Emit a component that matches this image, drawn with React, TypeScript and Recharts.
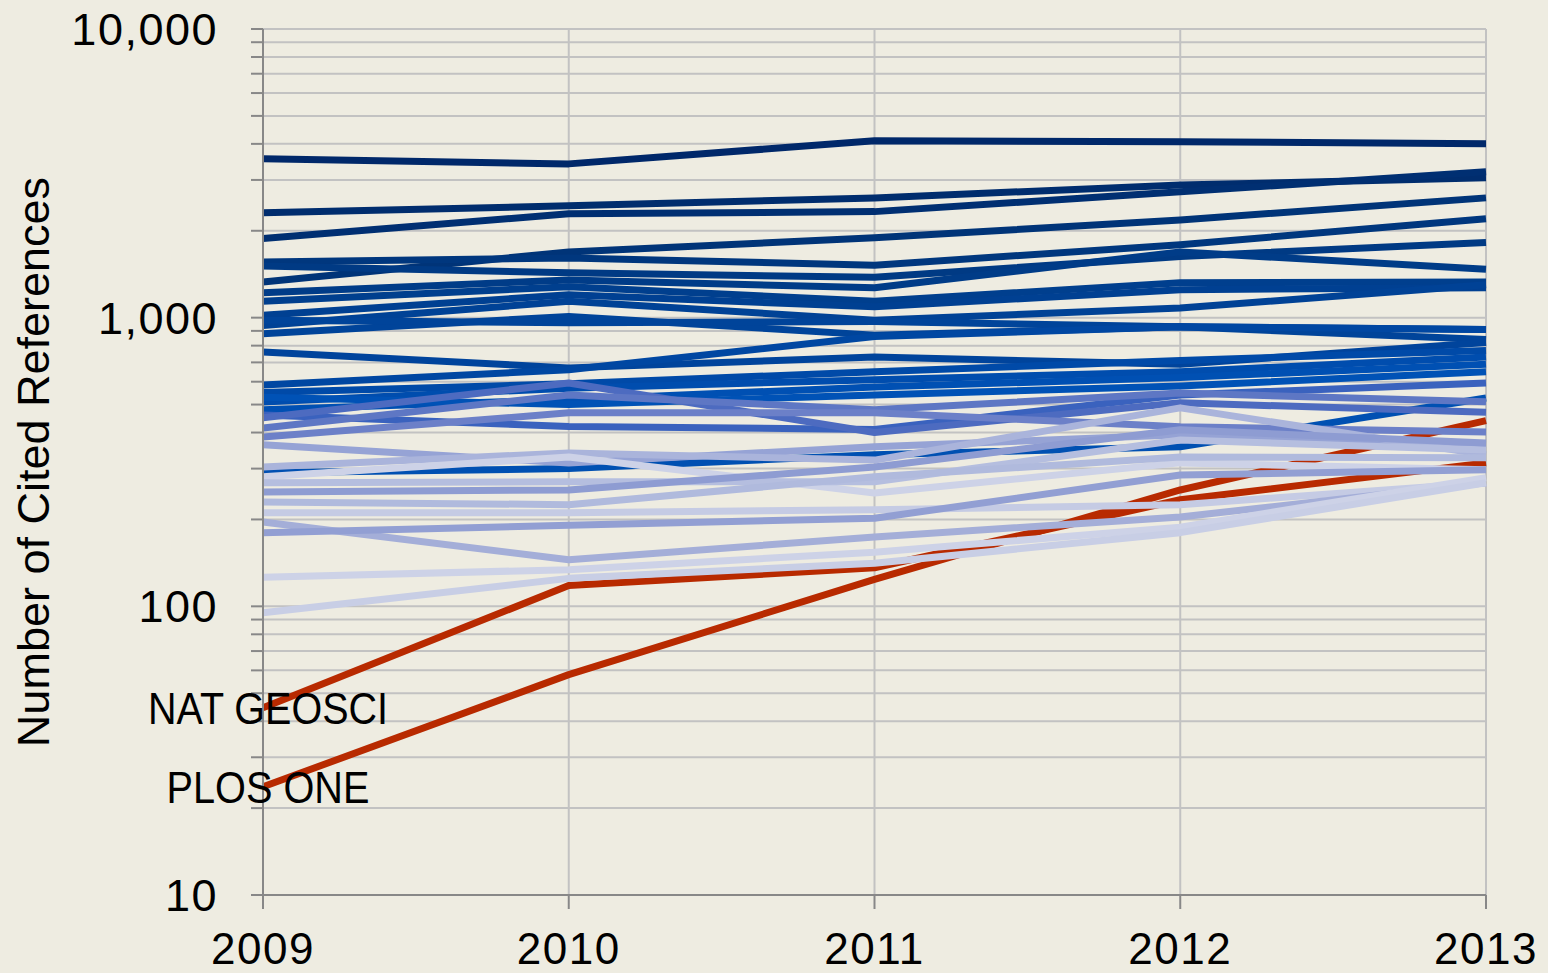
import React from 'react';
import { LineChart, Line, XAxis, YAxis, CartesianGrid, LabelList } from 'recharts';

// Categories
const years = ['2009', '2010', '2011', '2012', '2013'];

// Y axis ticks (log scale) and labels for the major ticks
const yTicks = [10, 20, 30, 40, 50, 60, 70, 80, 90, 100, 200, 300, 400, 500, 600, 700, 800, 900, 1000, 2000, 3000, 4000, 5000, 6000, 7000, 8000, 9000, 10000];
const majorTickLabels: Record<number, string> = { 10: '10', 100: '100', 1000: '1,000', 10000: '10,000' };

// Highlighted journals (red)
const natGeosci = [44.5, 118, 136, 234, 314];
const plosOne = [23.7, 58, 124, 253, 440];

// Dark navy journals
const navy1 = [3550, 3410, 4100, 4070, 4000];
const navy2 = [2310, 2440, 2600, 2880, 3050];
const navy3 = [1880, 2290, 2330, 2730, 3200];
const navy4 = [1330, 1690, 1890, 2180, 2600];
const navy5 = [1560, 1610, 1520, 1790, 2200];
const navy6 = [1510, 1430, 1380, 1630, 1820];
const navy7 = [1220, 1350, 1270, 1690, 1470];
const navy8 = [1140, 1280, 1140, 1320, 1330];
const navy9 = [1020, 1200, 1090, 1250, 1270];
const navy10 = [940, 1140, 980, 1080, 1300];
const navy11 = [880, 1010, 870, 930, 910];
const navy12 = [980, 960, 970, 930, 840];

// Medium blue journals
const mid1 = [760, 670, 730, 690, 820];
const mid2 = [585, 660, 860, 930, 910];
const mid3 = [550, 590, 650, 710, 770];
const mid4 = [510, 570, 610, 650, 730];
const mid5 = [480, 520, 575, 620, 690];
const mid6 = [530, 500, 540, 580, 650];
const mid7 = [290, 300, 335, 357, 527];
const mid8 = [460, 420, 410, 540, 594];

// Pale blue journals
const pale1 = [450, 594, 400, 507, 470];
const pale2 = [415, 540, 480, 548, 511];
const pale3 = [386, 468, 468, 419, 402];
const pale4 = [363, 314, 357, 393, 363];
const pale5 = [304, 340, 321, 487, 335];
const pale6 = [281, 329, 247, 314, 297];
const pale7 = [268, 270, 270, 377, 348];
const pale8 = [249, 253, 304, 409, 368];
const pale9 = [230, 225, 281, 329, 327];
const pale10 = [211, 211, 216, 225, 268];
const pale11 = [196, 145, 174, 204, 268];
const pale12 = [180, 191, 202, 285, 297];
const pale13 = [126, 134, 154, 188, 279];
const pale14 = [95, 125, 141, 180, 268];

type Series = { key: string; values: number[]; color: string; label?: string };

const series: Series[] = [
  { key: 'natGeosci', values: natGeosci, color: '#B82A00', label: 'NAT GEOSCI' },
  { key: 'plosOne', values: plosOne, color: '#B82A00', label: 'PLOS ONE' },
  { key: 'navy1', values: navy1, color: '#00286A' },
  { key: 'navy2', values: navy2, color: '#002D6E' },
  { key: 'navy3', values: navy3, color: '#002F72' },
  { key: 'navy4', values: navy4, color: '#003478' },
  { key: 'navy5', values: navy5, color: '#00377E' },
  { key: 'navy6', values: navy6, color: '#003A84' },
  { key: 'navy7', values: navy7, color: '#003C88' },
  { key: 'navy8', values: navy8, color: '#003F8E' },
  { key: 'navy9', values: navy9, color: '#004092' },
  { key: 'navy10', values: navy10, color: '#004296' },
  { key: 'navy11', values: navy11, color: '#00449A' },
  { key: 'navy12', values: navy12, color: '#00449A' },
  { key: 'mid1', values: mid1, color: '#00449C' },
  { key: 'mid2', values: mid2, color: '#0047A2' },
  { key: 'mid3', values: mid3, color: '#004AA8' },
  { key: 'mid4', values: mid4, color: '#004DAE' },
  { key: 'mid5', values: mid5, color: '#0050B3' },
  { key: 'mid6', values: mid6, color: '#0052B6' },
  { key: 'mid7', values: mid7, color: '#0050B2' },
  { key: 'mid8', values: mid8, color: '#3A62BE' },
  { key: 'pale1', values: pale1, color: '#4D6BC0' },
  { key: 'pale2', values: pale2, color: '#5E77C4' },
  { key: 'pale3', values: pale3, color: '#6C80C8' },
  { key: 'pale4', values: pale4, color: '#96A3D5' },
  { key: 'pale5', values: pale5, color: '#AAB4DB' },
  { key: 'pale6', values: pale6, color: '#CDD2E7' },
  { key: 'pale7', values: pale7, color: '#B5BEDF' },
  { key: 'pale8', values: pale8, color: '#8E9CD2' },
  { key: 'pale9', values: pale9, color: '#B0BADD' },
  { key: 'pale10', values: pale10, color: '#C5CBE4' },
  { key: 'pale11', values: pale11, color: '#A4AED8' },
  { key: 'pale12', values: pale12, color: '#929FD3' },
  { key: 'pale13', values: pale13, color: '#CDD2E7' },
  { key: 'pale14', values: pale14, color: '#C8CEE5' },
];

const data = years.map((year, i) => {
  const row: Record<string, string | number> = { year };
  series.forEach((s) => {
    row[s.key] = s.values[i];
  });
  return row;
});

const FONT = '"Liberation Sans", Arial, sans-serif';

const firstPointLabel = (text: string, width: number) => (props: any) => {
  const { x, y, index } = props;
  if (index !== 0) return null;
  return (
    <text
      x={Number(x) + 5}
      y={Number(y) + 16}
      textAnchor="middle"
      fontFamily={FONT}
      fontSize={44}
      fill="#000"
      textLength={width}
      lengthAdjust="spacingAndGlyphs"
    >
      {text}
    </text>
  );
};

export default function App() {
  return (
    <div style={{ position: 'absolute', left: 0, top: 0, width: 1548, height: 973, background: '#EEECE1', overflow: 'hidden' }}>
      <div
        style={{
          position: 'absolute',
          left: 33,
          top: 462,
          transform: 'translate(-50%, -50%) rotate(-90deg)',
          fontFamily: FONT,
          fontSize: 45,
          color: '#000',
          whiteSpace: 'nowrap',
          lineHeight: 1,
        }}
      >
        Number of Cited References
      </div>
      <LineChart width={1548} height={973} data={data} margin={{ top: 29, right: 62, bottom: 0, left: 0 }}>
        <CartesianGrid stroke="#C2C2C2" strokeWidth={2} />
        <XAxis
          dataKey="year"
          height={78}
          tickSize={14}
          tickMargin={24}
          axisLine={{ stroke: '#888888', strokeWidth: 2 }}
          tickLine={{ stroke: '#888888', strokeWidth: 2 }}
          tick={{ fontFamily: FONT, fontSize: 44, fill: '#000', letterSpacing: 1.5 }}
          interval={0}
        />
        <YAxis
          scale="log"
          domain={[10, 10000]}
          ticks={yTicks}
          allowDataOverflow
          width={263}
          tickSize={12}
          tickMargin={33}
          interval={0}
          axisLine={{ stroke: '#888888', strokeWidth: 2 }}
          tickLine={{ stroke: '#888888', strokeWidth: 2 }}
          tick={{ fontFamily: FONT, fontSize: 45, fill: '#000', letterSpacing: 1.5 }}
          tickFormatter={(v: number) => majorTickLabels[v] ?? ''}
        />
        {series.map((s) => (
          <Line
            key={s.key}
            dataKey={s.key}
            type="linear"
            stroke={s.color}
            strokeWidth={7}
            dot={false}
            activeDot={false}
            isAnimationActive={false}
            strokeLinejoin="round"
          >
            {s.label ? (
              <LabelList dataKey={s.key} content={firstPointLabel(s.label, s.label === 'NAT GEOSCI' ? 240 : 203)} />
            ) : null}
          </Line>
        ))}
      </LineChart>
    </div>
  );
}
